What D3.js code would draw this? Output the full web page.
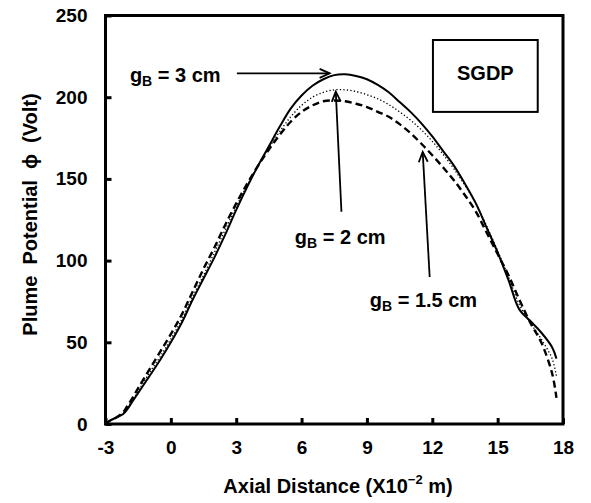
<!DOCTYPE html>
<html>
<head>
<meta charset="utf-8">
<script src="https://cdn.jsdelivr.net/npm/d3@7/dist/d3.min.js"></script>
<style>
  html, body { margin: 0; padding: 0; background: #fff; }
  svg { display: block; }
  text { font-family: "Liberation Sans", Arial, sans-serif; font-weight: bold; fill: #000; }
</style>
</head>
<body>
<svg id="chart" width="591" height="503"></svg>
<script>
// Axial positions (x 10^-2 m) shared by the three profiles
const axialPos = [-3, -2.8, -2.5, -2.2, -2, -1.8, -1.5, -1, -0.5, 0, 0.5, 1, 1.5, 2, 2.5, 3, 3.5, 4, 4.5, 5,
  5.5, 6, 6.5, 7, 7.5, 8, 8.5, 9, 9.5, 10, 10.5, 11, 11.5, 12, 12.5, 13, 13.5, 14, 14.5, 15,
  15.5, 16, 16.5, 17, 17.5, 17.7];

// Plume potential (Volt) for each bore gap gB
const phiGap3 = [0, 2, 4, 6, 9, 13, 19, 29, 39, 50, 62, 76, 89, 102, 116, 131, 145, 158, 170, 182,
  193, 201, 207, 211, 213.5, 214, 213, 211, 207.5, 203, 197, 191, 184, 176, 167, 158, 147, 135, 120, 105,
  88, 70, 63, 56, 47, 40];
const phiGap2 = [0, 2, 4, 6.5, 10, 14, 20, 31, 41, 52, 64, 78, 91, 105, 119, 133, 146, 158, 169, 179,
  188, 195, 200, 203, 204.5, 204.5, 203.5, 201.5, 199, 195.5, 191, 186, 180, 173, 165, 156, 146, 135, 121, 106,
  90, 73, 62, 52, 40, 29];
const phiGap15 = [0, 2, 4, 7, 11, 15, 22, 33, 44, 55, 67, 81, 95, 108, 122, 135, 147, 158, 168, 177,
  185, 191, 195, 197.5, 198, 197.5, 196, 194, 191, 188, 183.5, 178, 171.5, 164.5, 157, 149, 140, 130, 117, 104,
  91, 76, 62, 50, 31, 16];

const xTicks = [-3, 0, 3, 6, 9, 12, 15, 18];
const yTicks = [0, 50, 100, 150, 200, 250];

const svg = d3.select("#chart");
const plotL = 105.5, plotR = 563, plotT = 15.5, plotB = 424;

const x = d3.scaleLinear().domain([-3, 18]).range([plotL, plotR]);
const y = d3.scaleLinear().domain([0, 250]).range([plotB, plotT]);

// Axes: ticks point into the plot
const xAxis = svg.append("g").attr("transform", `translate(0,${plotB})`)
  .call(d3.axisBottom(x).tickValues(xTicks).tickFormat(d => String(d))
    .tickSizeInner(-6).tickSizeOuter(0).tickPadding(17));
const yAxis = svg.append("g").attr("transform", `translate(${plotL},0)`)
  .call(d3.axisLeft(y).tickValues(yTicks).tickFormat(d => String(d))
    .tickSizeInner(-6).tickSizeOuter(0).tickPadding(18));
[xAxis, yAxis].forEach(g => {
  g.select(".domain").remove();
  g.selectAll(".tick line").attr("stroke", "#000").attr("stroke-width", 3);
  g.selectAll(".tick text").style("font-size", "19px").style("font-family", "Liberation Sans, Arial, sans-serif")
    .style("font-weight", "bold").attr("fill", "#000");
});

// Plot frame
svg.append("rect")
  .attr("x", plotL).attr("y", plotT)
  .attr("width", plotR - plotL).attr("height", plotB - plotT)
  .attr("fill", "none").attr("stroke", "#000").attr("stroke-width", 3);

// Profiles
const line = vals => d3.line()
  .x((d, i) => x(axialPos[i]))
  .y(d => y(d))
  .curve(d3.curveCatmullRom.alpha(0.5))(vals);

svg.append("path").attr("d", line(phiGap2))
  .attr("fill", "none").attr("stroke", "#000").attr("stroke-width", 1.3)
  .attr("stroke-dasharray", "1.3,2.2");
svg.append("path").attr("d", line(phiGap15))
  .attr("fill", "none").attr("stroke", "#000").attr("stroke-width", 2.4)
  .attr("stroke-dasharray", "7,4");
svg.append("path").attr("d", line(phiGap3))
  .attr("fill", "none").attr("stroke", "#000").attr("stroke-width", 2);

// Axis titles
svg.append("text")
  .attr("x", 338).attr("y", 493)
  .attr("text-anchor", "middle").style("font-size", "20px")
  .html('Axial Distance (X10<tspan dy="-9" style="font-size:13px">\u22122</tspan><tspan dy="9"> m)</tspan>');

svg.append("text")
  .attr("transform", "translate(37,214.5) rotate(-90)")
  .attr("text-anchor", "middle").style("font-size", "20px")
  .attr("xml:space", "preserve")
  .style("white-space", "pre")
  .text("Plume  Potential  \u03D5  (Volt)");

// Labelled arrows for each gap
const arrows = [
  { label: "3 cm",   tx: -1.88, ty: 209.3, x1: 3.03, y1: 214.6, x2: 7.29, y2: 214.6 },
  { label: "2 cm",   tx: 5.69,  ty: 110.2, x1: 7.83, y1: 129.9, x2: 7.57, y2: 203.4 },
  { label: "1.5 cm", tx: 9.13,  ty: 71.8,  x1: 11.88, y1: 90,   x2: 11.56, y2: 166.5 }
];

arrows.forEach(a => {
  const X1 = x(a.x1), Y1 = y(a.y1), X2 = x(a.x2), Y2 = y(a.y2);
  svg.append("line").attr("x1", X1).attr("y1", Y1).attr("x2", X2).attr("y2", Y2)
    .attr("stroke", "#000").attr("stroke-width", 1.8);
  const ang = Math.atan2(Y2 - Y1, X2 - X1);
  const len = 11, spread = 0.42;
  const head = [ang + Math.PI - spread, ang + Math.PI + spread].map(t => [X2 + len * Math.cos(t), Y2 + len * Math.sin(t)]);
  svg.append("path")
    .attr("d", `M${head[0][0]},${head[0][1]}L${X2},${Y2}L${head[1][0]},${head[1][1]}`)
    .attr("fill", "none").attr("stroke", "#000").attr("stroke-width", 1.8);

  svg.append("text")
    .attr("x", x(a.tx)).attr("y", y(a.ty)).style("font-size", "20px")
    .html(`g<tspan dy="4" style="font-size:14px">B</tspan><tspan dy="-4"> = ${a.label}</tspan>`);
});

// Configuration tag
const boxL = 12.03, boxR = 16.84, boxT = 235, boxB = 191;
svg.append("rect")
  .attr("x", x(boxL)).attr("y", y(boxT))
  .attr("width", x(boxR) - x(boxL)).attr("height", y(boxB) - y(boxT))
  .attr("fill", "#fff").attr("stroke", "#000").attr("stroke-width", 2);
svg.append("text")
  .attr("x", (x(boxL) + x(boxR)) / 2).attr("y", y(boxT) + 40)
  .attr("text-anchor", "middle").style("font-size", "20px")
  .text("SGDP");
</script>
</body>
</html>
